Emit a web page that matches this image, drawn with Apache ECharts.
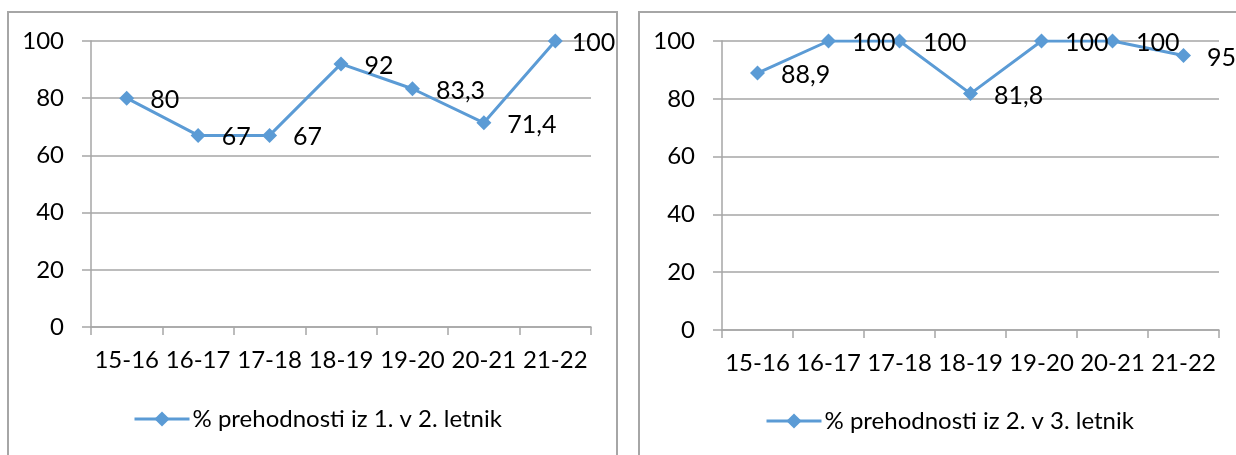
<!DOCTYPE html>
<html>
<head>
<meta charset="utf-8">
<script src="https://cdn.jsdelivr.net/npm/echarts@6/dist/echarts.min.js"></script>
<style>
html,body{margin:0;padding:0;background:#fff;}
#c{width:1236px;height:455px;}
</style>
</head>
<body>
<div id="c"></div>
<script>
const categories = ['15-16','16-17','17-18','18-19','19-20','20-21','21-22'];
const seriesName1 = '% prehodnosti iz 1. v 2. letnik';
const seriesName2 = '% prehodnosti iz 2. v 3. letnik';
const values1 = [80, 67, 67, 92, 83.3, 71.4, 100];
const values2 = [88.9, 100, 100, 81.8, 100, 100, 95];
const yTicks = [0, 20, 40, 60, 80, 100];

const FONT = 'Lato';
const BLUE = '#5B9BD5';
const GRAY = '#A6A6A6';

const chart = echarts.init(document.getElementById('c'), null, {renderer: 'canvas'});

function xAxis(gi) {
  return {
    type: 'category', gridIndex: gi, data: categories, boundaryGap: true,
    axisLine: {show: true, lineStyle: {color: GRAY, width: 1.5}},
    axisTick: {show: true, length: 8, lineStyle: {color: GRAY, width: 1.5}},
    axisLabel: {color: '#000', fontSize: 24, fontFamily: FONT, margin: 21, interval: 0}
  };
}
function yAxis(gi) {
  return {
    type: 'value', gridIndex: gi, min: yTicks[0], max: yTicks[yTicks.length - 1], interval: yTicks[1] - yTicks[0],
    axisLine: {show: true, lineStyle: {color: GRAY, width: 1.5}},
    axisTick: {show: true, length: 9, lineStyle: {color: GRAY, width: 1.5}},
    splitLine: {show: true, lineStyle: {color: GRAY, width: 1.5}},
    axisLabel: {color: '#000', fontSize: 24, fontFamily: FONT, margin: 27}
  };
}
function fmt(p) { return String(p.value).replace('.', ','); }
function series(name, vals, gi, lastOffset) {
  return {
    type: 'line', name: name, xAxisIndex: gi, yAxisIndex: gi,
    data: vals.map((v, i) => (lastOffset && i === vals.length - 1)
      ? {value: v, label: {offset: lastOffset}} : v),
    symbol: 'diamond', symbolSize: 15,
    itemStyle: {color: BLUE},
    lineStyle: {color: BLUE, width: 3},
    label: {show: true, position: 'right', offset: [11, 2], color: '#000', fontSize: 25, fontFamily: FONT, formatter: fmt},
    animation: false
  };
}
function legend(name, left, top) {
  return {
    data: [name], left: left, top: top, itemWidth: 55, itemHeight: 19, itemGap: 4,
    lineStyle: {width: 3},
    textStyle: {color: '#000', fontSize: 24, fontFamily: FONT, padding: [0, 0, 0, -2]}
  };
}

chart.setOption({
  animation: false,
  grid: [
    {left: 91, top: 41, width: 500, height: 286},
    {left: 722, top: 41, width: 497, height: 289}
  ],
  xAxis: [xAxis(0), xAxis(1)],
  yAxis: [yAxis(0), yAxis(1)],
  legend: [legend(seriesName1, 128, 402), legend(seriesName2, 760, 404)],
  graphic: [
    {type: 'rect', shape: {x: 8, y: 12, width: 609, height: 480}, style: {fill: 'none', stroke: GRAY, lineWidth: 2}, z: -1},
    {type: 'rect', shape: {x: 639, y: 12, width: 640, height: 480}, style: {fill: 'none', stroke: GRAY, lineWidth: 2}, z: -1}
  ],
  series: [
    series(seriesName1, values1, 0, [4, 2]),
    series(seriesName2, values2, 1, null)
  ]
});
</script>
</body>
</html>
